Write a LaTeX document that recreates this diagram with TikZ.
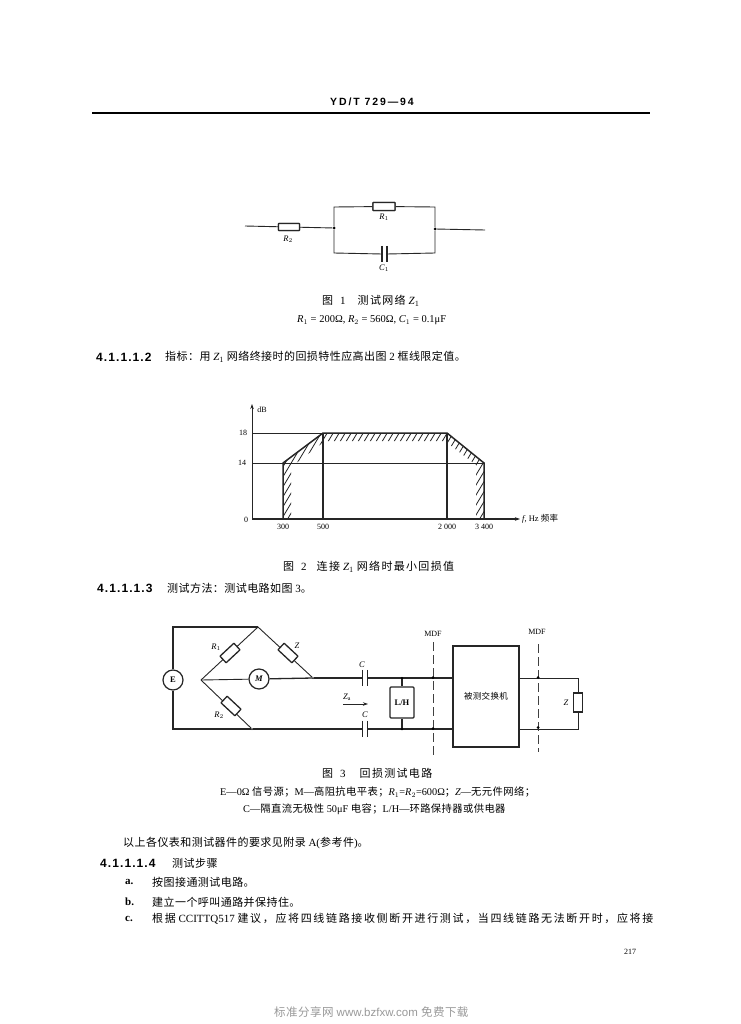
\documentclass[tikz,border=0pt]{standalone}
\usepackage{fontspec}
\setmainfont{Liberation Serif}
\setsansfont{Liberation Sans}
\newfontfamily\cjk{Noto Sans CJK SC}[LetterSpace=4]
\newfontfamily\cjkw{Noto Sans CJK SC}[LetterSpace=12]
\newfontfamily\cjkc{Noto Sans CJK SC}[LetterSpace=15]
\newfontfamily\secf{Liberation Sans}[LetterSpace=9]
\newfontfamily\hdrf{Liberation Sans}[LetterSpace=18]
\usetikzlibrary{arrows.meta}
\newcommand{\C}[1]{{\cjk #1}}
\newcommand{\W}[1]{{\cjkw #1}}
\newcommand{\Cc}[1]{{\cjkc #1}}
\newcommand{\Ri}[1]{{\itshape #1}}
\newcommand{\fs}[1]{\fontsize{#1}{#1}\selectfont}
\tikzset{
  x=1pt,y=-1pt,
  wire/.style={line width=0.9pt,black!85},
  heavy/.style={line width=1.3pt,black!85},
  res/.style={draw=black!85,line width=1.3pt,rounded corners=0.5pt,minimum width=20pt,minimum height=8pt,inner sep=0pt,fill=white},
  capbox/.style={draw=none,minimum width=4.5pt,minimum height=16pt,inner sep=0pt},
  plate/.style={line width=1.5pt,black!85},
  dotn/.style={circle,fill=black,inner sep=0pt,minimum size=3pt},
  meter/.style={circle,draw=black!85,line width=1.2pt,minimum size=20pt,inner sep=0pt,fill=white},
  lab/.style={inner sep=0pt,font=\fs{8.5}},
  small/.style={inner sep=0pt,font=\fs{8}},
  body/.style={inner sep=0pt,anchor=west,font=\fs{11}},
  secnum/.style={inner sep=0pt,anchor=west,font=\secf\bfseries\fs{12}},
  mdf/.style={dashed,dash pattern=on 9pt off 4pt,line width=0.9pt,black!75},
  arr/.style={-{Stealth[length=5pt,width=3.5pt]}},
}
\begin{document}
\begin{tikzpicture}
\useasboundingbox[fill=white] (0,0) rectangle (740,1024);

% header
\node[inner sep=0pt,font=\hdrf\bfseries\fs{10.5}] (hdr) at (372,102) {YD/T 729—94};
\coordinate (hl) at (92,113); \coordinate (hr) at (650,113);
\draw[line width=1.4pt] (hl) -- (hr);

% Figure 1
\coordinate (a1) at (245,226);
\coordinate (a2) at (485,230);
\node[dotn] (j1) at (334,228) {};
\node[dotn] (j2) at (435,229) {};
\coordinate (tl) at (334,207); \coordinate (tr) at (435,207);
\coordinate (bl) at (334,253); \coordinate (br) at (435,253);
\node[res,minimum width=21pt,minimum height=7pt] (r2) at (289,227) {};
\node[res,minimum width=22pt,minimum height=8pt] (r1) at (384,206.5) {};
\node[capbox] (c1) at (384.5,254) {};
\draw[wire] (a1) -- (r2) -- (j1);
\draw[wire] (j1) -- (tl) -- (r1) -- (tr) -- (j2);
\node[res,minimum width=22pt,minimum height=8pt] at (r1) {};
\node[res,minimum width=21pt,minimum height=7pt] at (r2) {};
\draw[wire] (j1) -- (bl) -- (c1.west);
\draw[wire] (c1.east) -- (br) -- (j2);
\draw[plate] (c1.north west) -- (c1.south west);
\draw[plate] (c1.north east) -- (c1.south east);
\draw[wire] (j2) -- (a2);
\node[lab] (lr2) at (288,239) {\Ri{R}$_{2}$};
\node[lab] (lr1) at (384,217) {\Ri{R}$_{1}$};
\node[lab] (lc1) at (384,268) {\Ri{C}$_{1}$};
\node[inner sep=0pt,anchor=west,font=\fs{11}] (cap1) at (322,301) {\W{图}\hspace{7pt}1\hspace{12pt}\W{测试网络}\hspace{3pt}\Ri{Z}$_{1}$};
\node[inner sep=0pt,anchor=west,font=\fs{10.5}] (cap1b) at (297,320) {\Ri{R}$_{1}$ = 200Ω, \Ri{R}$_{2}$ = 560Ω, \Ri{C}$_{1}$ = 0.1μF};

% 4.1.1.1.2
\node[secnum] (n1) at (96,357) {4.1.1.1.2};
\node[body] (p1) at (165,357) {\C{指标：用} \Ri{Z}$_{1}$ \C{网络终接时的回损特性应高出图} 2 \C{框线限定值。}};

% Figure 2
\coordinate (o) at (252,519);
\coordinate (ytop) at (252,404);
\coordinate (xend) at (520,519);
\coordinate (y18) at (252,433); \coordinate (y14) at (252,463);
\coordinate (p300) at (283,519); \coordinate (p500) at (323,519);
\coordinate (p2k) at (447,519); \coordinate (p34) at (484,519);
\coordinate (t300) at (283,463); \coordinate (t500) at (323,433);
\coordinate (t2k) at (447,433); \coordinate (t34) at (484,463);
\begin{scope}
\clip (283,519) -- (283,463) -- (323,433) -- (447,433) -- (484,463) -- (484,519) -- (476,519) -- (476,465) -- (445,441) -- (325,441) -- (291,467) -- (291,519) -- cycle;
\foreach \x in {200,206,...,560}
  \draw[line width=0.8pt,black!85] (\x,525) -- (\x+66,415);
\end{scope}
\draw[wire,arr] (o) -- (ytop);
\draw[heavy,arr] (o) -- (xend);
\draw[wire] (y18) -- (t500);
\draw[wire] (y14) -- (t34);
\draw[line width=1.5pt,black!85,line join=miter] (p300) -- (t300) -- (t500) -- (t2k) -- (t34) -- (p34);
\draw[line width=1.4pt,black!85] (p500) -- (t500);
\draw[line width=1.4pt,black!85] (p2k) -- (t2k);
\node[small] (ldb) at (262,410) {dB};
\node[small] (l18) at (243,433) {18};
\node[small] (l14) at (242,463) {14};
\node[small] (l0) at (246,520) {0};
\node[small] (l300) at (283,527) {300};
\node[small] (l500) at (323,527) {500};
\node[small] (l2k) at (447,527) {2 000};
\node[small] (l34) at (484,527) {3 400};
\node[small,anchor=west,font=\fs{8.5}] (lf) at (522,519) {\Ri{f}, Hz \C{频率}};
\node[inner sep=0pt,anchor=west,font=\fs{11}] (cap2) at (283,567) {\W{图}\hspace{7pt}2\hspace{10pt}\W{连接}\hspace{3pt}\Ri{Z}$_{1}$\hspace{3pt}\W{网络时最小回损值}};

% 4.1.1.1.3
\node[secnum] (n2) at (97,588) {4.1.1.1.3};
\node[body] (p2) at (167,588) {\C{测试方法：测试电路如图} 3\C{。}};

% Figure 3
\node[meter,font=\bfseries\fs{8.5}] (E) at (173,680) {E};
\node[meter,font=\bfseries\itshape\fs{8.5}] (M) at (259,679) {M};
\coordinate (nl) at (201,680);
\coordinate (nt) at (258,627);
\coordinate (tlc) at (173,627);
\coordinate (blc) at (173,729);
\node[dotn,minimum size=2pt] (nr) at (313,678) {};
\node[dotn,minimum size=2pt] (nb) at (252,729) {};
\draw[heavy] (E) -- (tlc) -- (nt);
\draw[heavy] (E) -- (blc) -- (nb);
\draw[wire] (nl) -- (nt) -- (nr);
\draw[wire] (nl) -- (nb);
\draw[wire] (nl) -- (M);
\draw[heavy] (M) -- (nr);
\node[res,rotate=43,minimum width=19pt,minimum height=9pt] (r3a) at (230,653) {};
\node[res,rotate=-43,minimum width=19pt,minimum height=9pt] (zz) at (288,653) {};
\node[res,rotate=-43,minimum width=19pt,minimum height=9pt] (r3b) at (231,706) {};
\node[capbox] (ct) at (365,678) {};
\node[capbox] (cb) at (365,729) {};
\node[draw=black!85,line width=1.2pt,minimum width=66pt,minimum height=101pt,inner sep=0pt,fill=white,font=\fs{8.5}] (sw) at (486,696.5) {\C{被测交换机}};
\node[draw=black!85,line width=1.3pt,minimum width=24pt,minimum height=31pt,inner sep=0pt,rounded corners=1pt,fill=white,font=\bfseries\fs{8.5}] (lh) at (402,702.5) {L/H};
\coordinate (swt) at (sw.west |- nr); \coordinate (swb) at (sw.west |- nb);
\coordinate (set) at (sw.east |- nr); \coordinate (seb) at (sw.east |- nb);
\draw[heavy] (nr) -- (ct.west);
\draw[heavy] (ct.east) -- (swt);
\draw[heavy] (nb) -- (cb.west);
\draw[heavy] (cb.east) -- (swb);
\foreach \n in {ct,cb}{
  \draw[plate] (\n.north west) -- (\n.south west);
  \draw[plate] (\n.north east) -- (\n.south east);
}
\node[dotn,minimum size=2.5pt] (d1) at (lh.north |- nr) {};
\node[dotn,minimum size=2.5pt] (d2) at (lh.south |- nb) {};
\draw[heavy] (d1) -- (lh.north);
\draw[heavy] (d2) -- (lh.south);
% far side
\node[draw=black!85,line width=1.2pt,minimum width=9pt,minimum height=19pt,inner sep=0pt,fill=white] (zl) at (578,702.5) {};
\coordinate (zt) at (zl.north |- set); \coordinate (zb) at (zl.south |- seb);
\draw[wire] (set) -- (zt) -- (zl.north);
\draw[wire] (seb) -- (zb) -- (zl.south);
% MDF lines
\coordinate (m1t) at (433,642); \coordinate (m1b) at (433,756);
\coordinate (m2t) at (538,644); \coordinate (m2b) at (538,752);
\draw[mdf] (m1t) -- (m1b);
\draw[mdf] (m2t) -- (m2b);
\node[dotn,minimum size=3pt] (m1a) at (433,677.5) {};
\node[dotn,minimum size=3pt] (m1c) at (433,728.5) {};
\node[dotn,minimum size=3pt] (m2a) at (538,677.5) {};
\node[dotn,minimum size=3pt] (m2c) at (538,727.5) {};
% arrow
\coordinate (za) at (343,704); \coordinate (zb2) at (368,704);
\draw[wire,arr] (za) -- (zb2);
\node[lab] (lzs) at (347,697) {\Ri{Z}$_{\mathrm{a}}$};
\node[lab] (lc2) at (362,665) {\Ri{C}};
\node[lab] (lc3) at (365,715) {\Ri{C}};
\node[lab] (lr1b) at (216,647) {\Ri{R}$_{1}$};
\node[lab] (lr3) at (219,715) {\Ri{R}$_{2}$};
\node[lab] (lz) at (297,646) {\Ri{Z}};
\node[lab] (lz2) at (566,703) {\Ri{Z}};
\node[small] (lm1) at (433,634) {MDF};
\node[small] (lm2) at (537,632) {MDF};

% captions
\node[inner sep=0pt,anchor=west,font=\fs{11}] (cap3) at (322,773) {\W{图}\hspace{7pt}3\hspace{14pt}\W{回损测试电路}};
\node[inner sep=0pt,anchor=west,font=\fs{10.3}] (cap3a) at (220,792) {E—0Ω \C{信号源；}M—\C{高阻抗电平表；}\Ri{R}$_{1}$=\Ri{R}$_{2}$=600Ω\C{；}\Ri{Z}—\C{无元件网络；}};
\node[inner sep=0pt,anchor=west,font=\fs{10.3}] (cap3b) at (243,809) {C—\C{隔直流无极性} 50μF \C{电容；}L/H—\C{环路保持器或供电器}};

% body
\node[body] (q1) at (123,843) {\C{以上各仪表和测试器件的要求见附录} A(\C{参考件})\C{。}};
\node[secnum] (n3) at (100,863) {4.1.1.1.4};
\node[body] (q2) at (172,863) {\C{测试步骤}};
\node[body] (qa) at (125,882) {\textbf{a.}};
\node[body] (qat) at (152,882) {\C{按图接通测试电路。}};
\node[body] (qb) at (125,902) {\textbf{b.}};
\node[body] (qbt) at (152,902) {\C{建立一个呼叫通路并保持住。}};
\node[body] (qc) at (125,919) {\textbf{c.}};
\node[body] (qct) at (152,919) {\Cc{根据} CCITTQ517 \Cc{建议，应将四线链路接收侧断开进行测试，当四线链路无法断开时，应将接}};
\node[small,font=\fs{8}] (pg) at (630,952) {217};

% watermark
\node[inner sep=0pt,anchor=west,text=black!40,font=\sffamily\fs{11.5}] (wm) at (274,1012) {\C{标准分享网} www.bzfxw.com \C{免费下载}};
\end{tikzpicture}
\end{document}
